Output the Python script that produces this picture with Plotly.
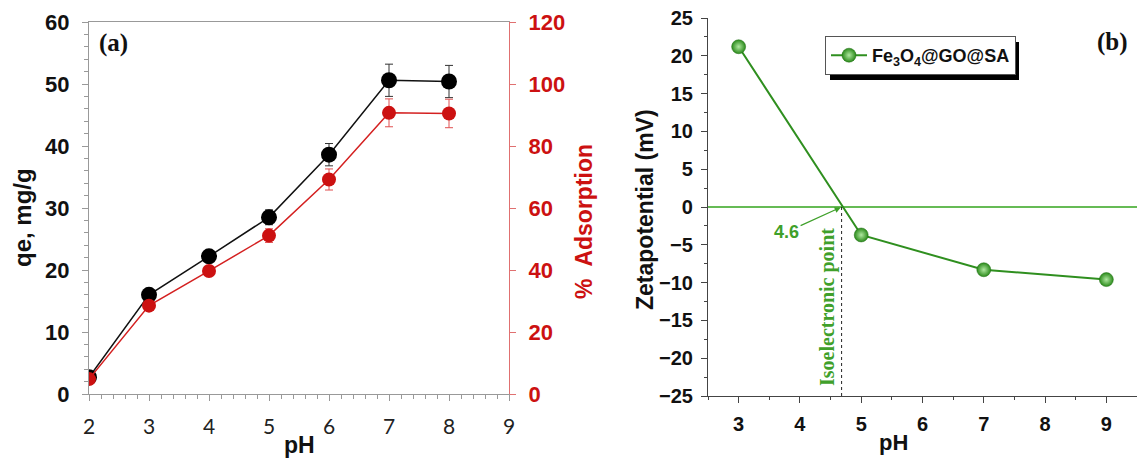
import plotly.graph_objects as go

# ---------------- data ----------------
ph_a = [2, 3, 4, 5, 6, 7, 8]
qe = [2.7, 16.0, 22.2, 28.5, 38.6, 50.6, 50.4]
qe_err = [0.3, 0.5, 0.8, 1.2, 1.8, 2.6, 2.6]
adsorption = [4.8, 28.5, 39.7, 51.1, 69.2, 90.7, 90.5]
ads_err = [0.8, 1.0, 1.2, 2.2, 3.4, 4.5, 4.6]

ph_b = [3, 5, 7, 9]
zeta = [21.2, -3.7, -8.3, -9.6]
iep = 4.68
iep_label = "4.6"

W, H = 1137, 458
def px(x):
    return x / W
def py(y):
    return 1 - y / H

GREEN = "#2f8f1f"
fig = go.Figure()

# panel (a)
fig.add_trace(go.Scatter(
    x=ph_a, y=qe, mode="lines+markers", xaxis="x", yaxis="y",
    line=dict(color="#111111", width=1.5),
    marker=dict(color="#000000", size=16),
    error_y=dict(type="data", array=qe_err, color="#333333", thickness=1, width=4),
    showlegend=False))
fig.add_trace(go.Scatter(
    x=ph_a, y=adsorption, mode="lines+markers", xaxis="x", yaxis="y3",
    line=dict(color="#d42020", width=1.5),
    marker=dict(color="#cc1111", size=14),
    error_y=dict(type="data", array=ads_err, color="#e05050", thickness=1, width=4),
    showlegend=False))

# panel (b)
fig.add_trace(go.Scatter(
    x=ph_b, y=zeta, mode="lines+markers", xaxis="x2", yaxis="y2",
    name="Fe<sub>3</sub>O<sub>4</sub>@GO@SA",
    line=dict(color=GREEN, width=2),
    marker=dict(color="#2a8a1a", size=14,
                gradient=dict(type="radial", color="#b0e8a0"),
                line=dict(color="#1f6f12", width=0.5)),
    showlegend=True))

tick_font_a = dict(family="Liberation Sans", size=22, color="#111111", weight="bold")
narrow = "Liberation Sans Narrow, Liberation Sans"
fig.update_layout(
    template="none",
    width=W, height=H,
    margin=dict(l=0, r=0, t=0, b=0, autoexpand=False),
    paper_bgcolor="white", plot_bgcolor="white",
    xaxis=dict(domain=[px(89), px(509)], range=[2, 9], anchor="y", automargin=False,
               tickmode="linear", tick0=2, dtick=1,
               ticks="outside", ticklen=6, tickcolor="#999999",
               minor=dict(dtick=0.2, ticks="outside", ticklen=4, tickcolor="#999999"),
               showline=True, linecolor="#999999", linewidth=1.2, mirror=True,
               showgrid=False, zeroline=False,
               tickfont=dict(family="Lato", size=21, color="#222222"),
               ticklabelstandoff=8),
    yaxis=dict(domain=[py(394), py(22)], range=[0, 60], anchor="x", automargin=False,
               tickmode="linear", tick0=0, dtick=10,
               ticks="outside", ticklen=6, tickcolor="#999999",
               minor=dict(dtick=2, ticks="outside", ticklen=4, tickcolor="#999999"),
               showline=True, linecolor="#999999", linewidth=1.2,
               showgrid=False, zeroline=False,
               tickfont=tick_font_a, ticklabelstandoff=8),
    yaxis3=dict(overlaying="y", side="right", anchor="x", range=[0, 120], automargin=False,
                tickmode="linear", tick0=0, dtick=20,
                ticks="outside", ticklen=6, tickcolor="#e07070",
                showline=True, linecolor="#e07070", linewidth=1.2,
                showgrid=False, zeroline=False,
                tickfont=dict(family="Liberation Sans", size=22, color="#cc1111", weight="bold"),
                ticklabelstandoff=8),
    xaxis2=dict(domain=[px(708), 1.0], range=[2.5, 9.5], anchor="y2", automargin=False,
                tickmode="linear", tick0=3, dtick=1,
                ticks="outside", ticklen=6, tickcolor="#444444", tickwidth=1.2,
                minor=dict(dtick=0.5, ticks="outside", ticklen=3, tickcolor="#444444"),
                showline=True, linecolor="#444444", linewidth=1.2,
                showgrid=False, zeroline=False,
                tickfont=dict(family=narrow, size=20, color="#111111", weight="bold"),
                ticklabelstandoff=4),
    yaxis2=dict(domain=[py(396), py(18)], range=[-25, 25], anchor="x2", automargin=False,
                tickmode="linear", tick0=-25, dtick=5,
                ticks="outside", ticklen=6, tickcolor="#444444", tickwidth=1.2,
                minor=dict(dtick=2.5, ticks="outside", ticklen=3, tickcolor="#444444"),
                showline=True, linecolor="#444444", linewidth=1.2,
                showgrid=False,
                zeroline=True, zerolinecolor="#66bb55", zerolinewidth=1.5,
                tickfont=dict(family=narrow, size=20, color="#111111", weight="bold"),
                ticklabelstandoff=4),
    xaxis3=dict(overlaying="x2", side="top", anchor="y2", range=[2.5, 9.5], automargin=False,
                tickmode="linear", tick0=3.21, dtick=0.7,
                ticks="inside", ticklen=5, tickcolor="#444444",
                showticklabels=False, showline=True, linecolor="#444444", linewidth=1.2,
                showgrid=False, zeroline=False),
    yaxis4=dict(overlaying="y2", side="right", anchor="x2", range=[-25, 25], automargin=False,
                tickmode="linear", tick0=-25, dtick=5,
                ticks="inside", ticklen=5, tickcolor="#444444",
                showticklabels=False, showline=True, linecolor="#444444", linewidth=1.2,
                showgrid=False, zeroline=False),
    legend=dict(x=px(825), y=py(36), xanchor="left", yanchor="top",
                bgcolor="white", bordercolor="#555555", borderwidth=1,
                font=dict(family="Liberation Sans", size=18, color="#111111", weight="bold"),
                itemwidth=36, tracegroupgap=0),
)

shapes = [
    # legend shadow
    dict(type="rect", xref="paper", yref="paper",
         x0=px(830), x1=px(1019), y0=py(80), y1=py(42),
         fillcolor="black", line=dict(width=0), layer="above"),
    # isoelectric point marker line
    dict(type="line", xref="x2", yref="y2", x0=iep, x1=iep, y0=0, y1=-25,
         line=dict(color="#222222", width=1, dash="dot")),
]
fig.update_layout(shapes=shapes)

title_font = dict(family="Liberation Sans", size=23, color="#111111", weight="bold")
ann = [
    dict(text="qe, mg/g", x=px(22), y=py(218), textangle=-90,
         font=dict(family="Liberation Sans", size=24, color="#111111", weight="bold")),
    dict(text="%  Adsorption", x=px(584), y=py(222), textangle=-90,
         font=dict(family="Liberation Sans", size=23, color="#cc1111", weight="bold")),
    dict(text="pH", x=px(299), y=py(445), font=title_font),
    dict(text="Zetapotential (mV)", x=px(645), y=py(210), textangle=-90, font=title_font),
    dict(text="pH", x=px(893), y=py(442), font=dict(family="Liberation Sans", size=22,
                                                    color="#111111", weight="bold")),
    dict(text="(a)", x=px(113), y=py(43),
         font=dict(family="Liberation Serif", size=25, color="#111111", weight="bold")),
    dict(text="(b)", x=px(1112), y=py(42),
         font=dict(family="Liberation Serif", size=25, color="#111111", weight="bold")),
    dict(text="Isoelectronic point", x=px(827), y=py(307), textangle=-90,
         font=dict(family="Liberation Serif", size=20, color="#3fa02a", weight="bold")),
]
annotations = []
for a in ann:
    d = dict(xref="paper", yref="paper", showarrow=False, xanchor="center", yanchor="middle")
    d.update(a)
    annotations.append(d)
annotations.append(dict(
    xref="x2", yref="y2", x=iep, y=0, text=iep_label,
    showarrow=True, arrowhead=2, arrowsize=1, arrowwidth=1.2, arrowcolor="#3fa02a",
    ax=-55, ay=25, standoff=1,
    font=dict(family="Liberation Sans", size=18, color="#3fa02a", weight="bold")))
fig.update_layout(annotations=annotations)

fig.write_html("out.html", config={"displayModeBar": False},
               post_script="document.body.style.margin='0';")
